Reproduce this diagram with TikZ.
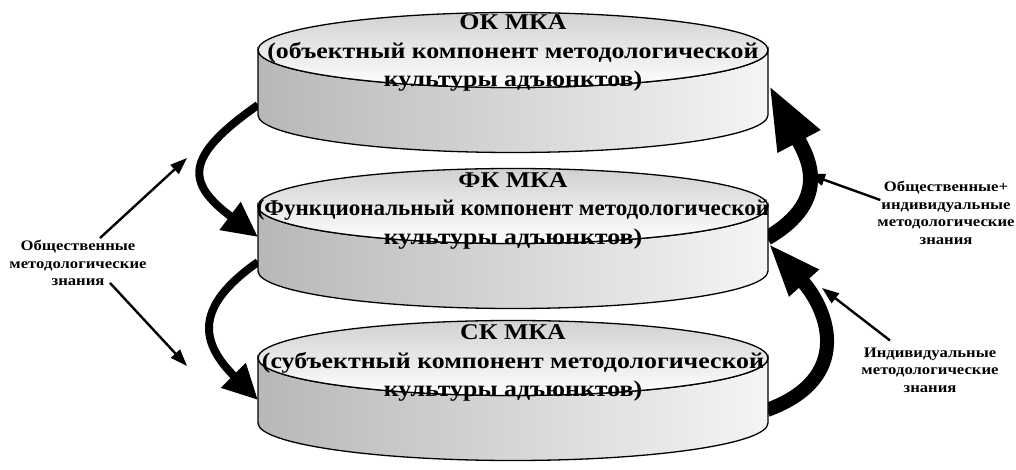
\documentclass[tikz,border=0pt]{standalone}
\usepackage{fontspec}
\usepackage{tikz}
\usetikzlibrary{calc,arrows.meta}
\newfontfamily\discfont[FakeStretch=1.15]{Liberation Serif}
\def\mkadisc(#1,#2){
	\shadedraw[line width=1.3pt, left color=black!28, right color=black!4] ({#1-255},#2) -- ({#1-255},{#2-65}) arc[start angle=180, end angle=360, x radius=255, y radius=37.5] -- ({#1+255},#2) arc[start angle=0, end angle=-180, x radius=255, y radius=37.5] -- cycle;
	\shadedraw[line width=1.3pt, top color=black!18, bottom color=white] (#1,#2) ellipse [x radius=255, y radius=37.5];
}
\tikzset{
	disctext/.style={font=\discfont\bfseries\fontsize{22.5}{28.5}\selectfont, align=center, inner sep=0pt},
	sidetext/.style={font=\discfont\bfseries\fontsize{14.5}{17.5}\selectfont, align=center, inner sep=0pt},
	lflow/.style={line width=8pt, -{Triangle[length=35pt,width=33pt]}},
	rflowtop/.style={line width=15pt, -{Triangle[length=64pt,width=44pt]}},
	rflowlow/.style={line width=14pt, -{Triangle[length=54pt,width=36pt]}},
	pointer/.style={line width=2.4pt, -{Triangle[length=17pt,width=12pt]}}
}
\begin{document}
\begin{tikzpicture}[x=1pt, y=1pt]
			%%%%% START %%%%%
			\useasboundingbox (0, 0) rectangle (1016, 470);
			
			\coordinate (okOut) at (258, 365);
			\coordinate (fkIn) at (258, 233);
			\coordinate (fkOut) at (258, 208);
			\coordinate (skIn) at (258, 70);
			\coordinate (skUp) at (767, 60);
			\coordinate (fkTo) at (768, 227);
			\coordinate (fkUp) at (767, 232);
			\coordinate (okTo) at (769, 385);
			
			\draw[lflow] (okOut) to[out=215, in=143, looseness=1.76] (fkIn);
			\draw[lflow] (fkOut) to[out=215, in=135, looseness=1.49] (skIn);
			\draw[rflowlow] (skUp) to[out=20, in=-48, looseness=1.4] (fkTo);
			\draw[rflowtop] (fkUp) to[out=30, in=-62, looseness=1.3] (okTo);
			
			\mkadisc(513, 420);
			\mkadisc(513, 264);
			\mkadisc(513, 112);
			
			\node[disctext] (ok) at (513, 417) {ОК МКА\\(объектный компонент методологической\\культуры адъюнктов)};
			\node[disctext] (fk) at (513, 259) {ФК МКА\\\scalebox{0.89}[1]{(Функциональный компонент методологической}\\культуры адъюнктов)};
			\node[disctext] (sk) at (513, 107) {СК МКА\\(субъектный компонент методологической\\культуры адъюнктов)};
			
			\node[sidetext] (lblSoc) at (78, 207) {Общественные\\методологические\\знания};
			\node[sidetext] (lblBoth) at (946, 257) {Общественные+\\индивидуальные\\методологические\\знания};
			\node[sidetext] (lblInd) at (930, 100) {Индивидуальные\\методологические\\знания};
			
			\coordinate (tipA) at (187, 312);
			\coordinate (tipB) at (187, 104);
			\coordinate (tipC) at (808, 296);
			\coordinate (tipD) at (822, 182);
			
			\draw[pointer] ([shift={(22,2)}]lblSoc.north) -- (tipA);
			\draw[pointer] ([shift={(32,3)}]lblSoc.south) -- (tipB);
			\draw[pointer] ([shift={(3,13)}]lblBoth.west) -- (tipC);
			\draw[pointer] ([shift={(-40,7)}]lblInd.north) -- (tipD);
			
			%%%%% END %%%%%
\end{tikzpicture}
\end{document}
